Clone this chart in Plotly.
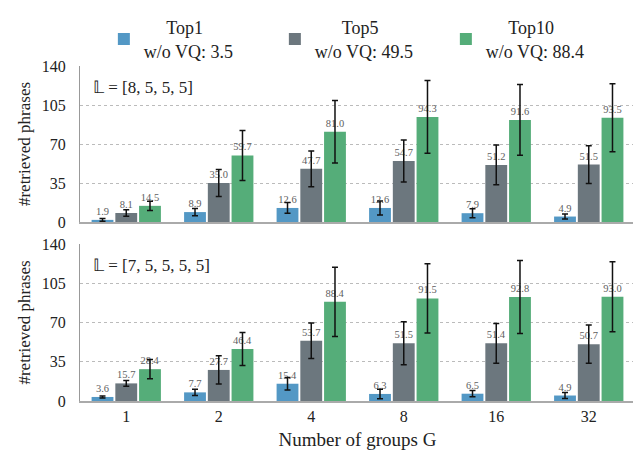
import plotly.graph_objects as go
from plotly.subplots import make_subplots

groups = ["1", "2", "4", "8", "16", "32"]
series_names = ["Top1", "Top5", "Top10"]
wo_vq = [3.5, 49.5, 88.4]
colors = ["#5398c5", "#6c777e", "#55ad79"]

# panel 1: L = [8,5,5,5]
p1_top1 = [1.9, 8.9, 12.6, 12.6, 7.9, 4.9]
p1_top5 = [8.1, 35.0, 47.7, 54.7, 51.2, 51.5]
p1_top10 = [14.5, 59.7, 81.0, 94.3, 91.6, 93.5]
p1_err_top1 = [1.3, 3.3, 4.8, 6.3, 4.0, 2.2]
p1_err_top5 = [2.9, 12.2, 16.0, 18.9, 17.8, 17.0]
p1_err_top10 = [4.2, 22.5, 28.0, 32.7, 31.8, 30.5]

# panel 2: L = [7,5,5,5,5]
p2_top1 = [3.6, 7.7, 15.4, 6.3, 6.5, 4.9]
p2_top5 = [15.7, 27.7, 53.7, 51.5, 51.4, 50.7]
p2_top10 = [28.4, 46.4, 88.4, 91.5, 92.8, 93.0]
p2_err_top1 = [0.9, 2.7, 5.5, 4.2, 2.8, 2.7]
p2_err_top5 = [2.6, 12.6, 15.9, 19.2, 17.8, 17.0]
p2_err_top10 = [8.6, 14.7, 30.8, 30.8, 32.5, 31.2]

panel_labels = ["𝕃 = [8, 5, 5, 5]", "𝕃 = [7, 5, 5, 5, 5]"]
y_ticks = [0, 35, 70, 105, 140]
y_title = "#retrieved phrases"
x_title = "Number of groups G"

FONT = "Liberation Serif, Times New Roman, serif"
pads = ["&nbsp;" * 5, "&nbsp;" * 6, "&nbsp;" * 5]

fig = make_subplots(rows=2, cols=1, shared_xaxes=True)

panels = [
    ([p1_top1, p1_top5, p1_top10], [p1_err_top1, p1_err_top5, p1_err_top10]),
    ([p2_top1, p2_top5, p2_top10], [p2_err_top1, p2_err_top5, p2_err_top10]),
]

for r, (vals, errs) in enumerate(panels, start=1):
    for i, name in enumerate(series_names):
        fig.add_trace(
            go.Bar(
                x=groups,
                y=vals[i],
                name=f"{pads[i]}{name}<br>w/o VQ: {wo_vq[i]}",
                legendgroup=name,
                showlegend=(r == 1),
                marker=dict(color=colors[i], line=dict(width=0)),
                error_y=dict(type="data", array=errs[i], color="#111111",
                             thickness=1.5, width=3),
                texttemplate="%{y:.1f}",
                textposition="outside",
                textfont=dict(family=FONT, size=10.5, color="#5e5e5e"),
                constraintext="none",
                cliponaxis=False,
            ),
            row=r, col=1,
        )

# plot area: top margin 0 so the legend (above the panels) never pushes the margins
H = 450 - 57
fig.update_layout(
    width=641, height=450,
    margin=dict(l=72, r=14, t=0, b=57),
    paper_bgcolor="white", plot_bgcolor="white",
    font=dict(family=FONT, size=16, color="#222222"),
    barmode="group", bargap=0.23, bargroupgap=0.08,
    legend=dict(orientation="h", x=0.043, xanchor="left",
                y=1 - 1 / H, yanchor="top",
                font=dict(family=FONT, size=18, color="#222222"),
                itemwidth=30, entrywidth=126, traceorder="normal"),
    yaxis=dict(domain=[(H - 214 + 0) / H, (H - 58) / H]),
    yaxis2=dict(domain=[0.0, (H - 236) / H]),
)

for r in (1, 2):
    fig.update_yaxes(
        range=[0, 140], tickvals=y_ticks, ticktext=[str(v) for v in y_ticks],
        showgrid=True, gridcolor="#bbbbbb", griddash="dot", gridwidth=1,
        zeroline=False, showline=True, linecolor="#999999", linewidth=1,
        ticks="", ticklabelstandoff=10, automargin=False,
        tickfont=dict(family=FONT, size=16, color="#222222"),
        title=dict(text=y_title, font=dict(family=FONT, size=17), standoff=6),
        row=r, col=1,
    )
    fig.update_xaxes(
        showline=True, linecolor="#aaaaaa", linewidth=2,
        showgrid=False, zeroline=False, ticks="", automargin=False,
        tickfont=dict(family=FONT, size=16, color="#222222"),
        row=r, col=1,
    )
    fig.add_annotation(
        text=panel_labels[r - 1], xref=f"x{'' if r == 1 else r} domain",
        yref=f"y{'' if r == 1 else r} domain", x=0.02, y=0.86,
        xanchor="left", yanchor="middle", showarrow=False,
        font=dict(family=FONT, size=17, color="#222222"),
    )

fig.update_xaxes(showticklabels=False, row=1, col=1)
fig.update_xaxes(title=dict(text=x_title, font=dict(family=FONT, size=19), standoff=8),
                 row=2, col=1)

fig.write_html("out.html")
